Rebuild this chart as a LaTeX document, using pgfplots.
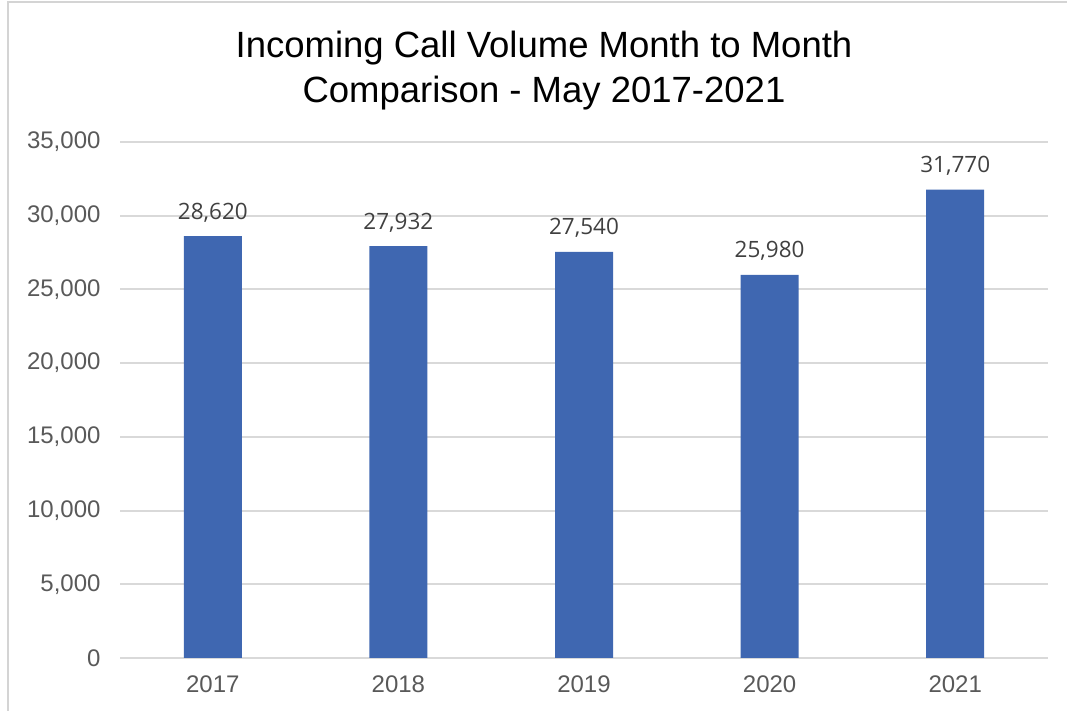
\documentclass[border=0pt]{standalone}
\usepackage{pgfplots}
\pgfplotsset{compat=1.18}
\usepackage{fontspec}
\setmainfont{Liberation Sans}
\newfontfamily\lblfont{Open Sans}
\definecolor{barblue}{RGB}{63,103,177}
\definecolor{gridgray}{RGB}{217,217,217}
\definecolor{ticktext}{RGB}{89,89,89}
\definecolor{lbltext}{RGB}{64,64,64}
\definecolor{bordergray}{RGB}{212,212,212}
\begin{document}
\begin{tikzpicture}
\path[use as bounding box] (0,0) rectangle (1067pt,711pt);
\draw[bordergray, line width=2.2pt] (8pt,0pt) -- (8pt,709pt) -- (1067pt,709pt);
\node[anchor=base, font=\fontsize{36.5}{44}\selectfont] at (544pt,653pt) {Incoming Call Volume Month to Month};
\node[anchor=base, font=\fontsize{36.5}{44}\selectfont] at (544pt,608pt) {Comparison - May 2017-2021};
\begin{axis}[
  at={(120pt,53pt)}, anchor=south west,
  scale only axis, width=928pt, height=516pt,
  xmin=-0.5, xmax=4.5, ymin=0, ymax=35000,
  ytick={0,5000,10000,15000,20000,25000,30000,35000},
  xtick=data, xticklabels={2017,2018,2019,2020,2021},
  major tick length=0pt,
  axis line style={draw=none},
  ymajorgrids, grid style={gridgray, line width=2pt},
  scaled y ticks=false,
  yticklabel style={font=\fontsize{24}{28}\selectfont, text=ticktext, /pgf/number format/1000 sep={,}, /pgf/number format/assume math mode=true, xshift=-16pt},
  xticklabel style={font=\fontsize{24}{28}\selectfont, text=ticktext, yshift=-14pt},
  ybar, bar width=58pt, bar shift=0pt,
  nodes near coords={\pgfmathprintnumber[fixed,precision=0,1000 sep={,},assume math mode=true]{\pgfplotspointmeta}},
  nodes near coords style={anchor=base, yshift=17pt, font=\lblfont\fontsize{22.5}{26}\selectfont, text=lbltext},
]
\addplot[fill=barblue, draw=none] coordinates {(0,28620) (1,27932) (2,27540) (3,25980) (4,31770)};
\end{axis}
\end{tikzpicture}
\end{document}
